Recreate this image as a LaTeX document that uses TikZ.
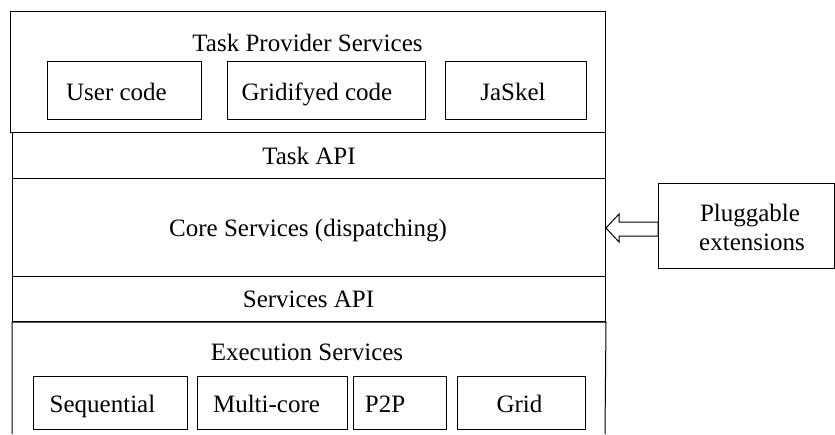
\documentclass[tikz,border=0pt]{standalone}
\usepackage{fontspec}
\newfontfamily\diagfont{LiberationSerif}[Extension=.ttf, UprightFont=*-Regular, BoldFont=*-Bold]
\begin{document}
\begin{tikzpicture}[x=1pt,y=-1pt,
  box/.style={draw, line width=1pt, inner sep=0pt, anchor=north west},
  lbl/.style={anchor=base, inner sep=0pt, font=\diagfont\fontsize{25}{29}\selectfont}]
\useasboundingbox (0,0) rectangle (835,434);
% outer layers
\node[box, minimum width=595pt, minimum height=121pt] (tps) at (10,11) {};
\node[box, minimum width=593pt, minimum height=46pt] (tapi) at (12,132) {};
\node[box, minimum width=593pt, minimum height=98pt] (core) at (12,178) {};
\node[box, minimum width=593pt, minimum height=45pt] (sapi) at (12,276) {};
\draw[line width=1pt] (12,434) -- (sapi.south west) -- (sapi.south east) -- (605,434);
% layer labels
\node[lbl] (tpsl) at (307.5,51) {Task Provider Services};
\node[lbl] (tapil) at (309,164) {Task API};
\node[lbl] (corel) at (308,236) {Core Services (dispatching)};
\node[lbl] (sapil) at (308.5,307.5) {Services API};
\node[lbl] (exl) at (307,360) {Execution Services};
% task provider boxes
\node[box, minimum width=154pt, minimum height=58pt] (uc) at (47,61) {};
\node[box, minimum width=198pt, minimum height=58pt] (gc) at (227,61) {};
\node[box, minimum width=141pt, minimum height=58pt] (js) at (445,61) {};
\node[lbl] (ucl) at (116.5,100) {User code};
\node[lbl] (gcl) at (317,100) {Gridifyed code};
\node[lbl] (jsl) at (513,100) {JaSkel};
% execution boxes
\node[box, minimum width=154pt, minimum height=53pt] (seq) at (33,376) {};
\node[box, minimum width=150pt, minimum height=53pt] (mc) at (197,376) {};
\node[box, minimum width=93pt, minimum height=53pt] (p2p) at (353,376) {};
\node[box, minimum width=128pt, minimum height=53pt] (grid) at (457,376) {};
\node[lbl] (seql) at (102.5,412) {Sequential};
\node[lbl] (mcl) at (266.5,412) {Multi-core};
\node[lbl] (p2pl) at (385,412) {P2P};
\node[lbl] (gridl) at (519.5,412) {Grid};
% pluggable extensions
\node[box, minimum width=176pt, minimum height=85pt] (pe) at (658,183) {};
\node[lbl] (pel1) at (750,221) {Pluggable};
\node[lbl] (pel2) at (752,250) {extensions};
% hollow arrow
\coordinate (tip) at (core.east |- 0,228);
\draw[line width=1pt, line join=miter, fill=white]
  (tip) -- ++(13,-14) -- ++(0,8) -- (pe.west |- 0,222) -- (pe.west |- 0,236)
  -- (619,236) -- (619,242) -- cycle;
\end{tikzpicture}
\end{document}
